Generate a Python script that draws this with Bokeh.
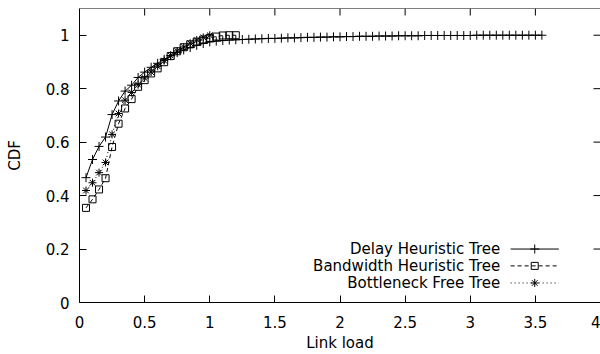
from bokeh.plotting import figure
from bokeh.models import Range1d, FixedTicker, Span
from bokeh.embed import file_html
from bokeh.resources import INLINE
from bokeh.core.properties import value

# ---- data: CDF of link load for three tree construction schemes ----
delay_x = [0.05, 0.10, 0.15, 0.20, 0.25, 0.30, 0.35, 0.40, 0.45, 0.50,
           0.55, 0.60, 0.65, 0.70, 0.75, 0.80, 0.85, 0.90, 0.95, 1.00,
           1.05, 1.10, 1.15, 1.20, 1.25, 1.30, 1.35, 1.40, 1.45, 1.50,
           1.55, 1.60, 1.65, 1.70, 1.75, 1.80, 1.85, 1.90, 1.95, 2.00,
           2.05, 2.10, 2.15, 2.20, 2.25, 2.30, 2.35, 2.40, 2.45, 2.50,
           2.55, 2.60, 2.65, 2.70, 2.75, 2.80, 2.85, 2.90, 2.95, 3.00,
           3.05, 3.10, 3.15, 3.20, 3.25, 3.30, 3.35, 3.40, 3.45, 3.50, 3.55]
delay_cdf = [0.467, 0.535, 0.584, 0.619, 0.703, 0.754, 0.791, 0.813, 0.842, 0.862,
             0.880, 0.895, 0.910, 0.923, 0.935, 0.945, 0.954, 0.962, 0.969, 0.975,
             0.978, 0.980, 0.982, 0.983, 0.984, 0.985, 0.986, 0.987, 0.988, 0.988,
             0.989, 0.990, 0.990, 0.991, 0.992, 0.992, 0.993, 0.993, 0.994, 0.994,
             0.995, 0.995, 0.996, 0.996, 0.996, 0.997, 0.997, 0.997, 0.998, 0.998,
             0.998, 0.998, 0.999, 0.999, 0.999, 0.999, 0.999, 0.999, 0.999, 0.999,
             1.000, 1.000, 1.000, 1.000, 1.000, 1.000, 1.000, 1.000, 1.000, 1.000, 1.000]

bandwidth_x = [0.05, 0.10, 0.15, 0.20, 0.25, 0.30, 0.35, 0.40, 0.45, 0.50,
               0.55, 0.60, 0.65, 0.70, 0.75, 0.80, 0.85, 0.90, 0.95, 1.00,
               1.05, 1.10, 1.15, 1.20]
bandwidth_cdf = [0.354, 0.386, 0.423, 0.465, 0.582, 0.669, 0.726, 0.761, 0.807, 0.832,
                 0.857, 0.876, 0.899, 0.922, 0.940, 0.955, 0.966, 0.976, 0.984, 0.990,
                 0.995, 0.999, 1.000, 1.000]

bottleneck_x = [0.05, 0.10, 0.15, 0.20, 0.25, 0.30, 0.35, 0.40, 0.45, 0.50,
                0.55, 0.60, 0.65, 0.70, 0.75, 0.80, 0.85, 0.90, 0.95, 1.00]
bottleneck_cdf = [0.419, 0.448, 0.486, 0.524, 0.629, 0.707, 0.757, 0.786, 0.815, 0.840,
                  0.862, 0.884, 0.905, 0.924, 0.941, 0.956, 0.970, 0.982, 0.992, 1.000]

series_names = ["Delay Heuristic Tree", "Bandwidth Heuristic Tree", "Bottleneck Free Tree"]

x_ticks = [0, 0.5, 1, 1.5, 2, 2.5, 3, 3.5, 4]
x_tick_labels = ["0", "0.5", "1", "1.5", "2", "2.5", "3", "3.5", "4"]
y_ticks = [0, 0.2, 0.4, 0.6, 0.8, 1.0]
y_tick_labels = ["0", "0.2", "0.4", "0.6", "0.8", "1"]

FONT = "DejaVu Sans"
FSIZE = "15px"
X_MAX, Y_MAX = 4.0, 1.1
TICK_PX = 7

p = figure(width=600, height=354, x_range=Range1d(0, X_MAX), y_range=Range1d(0, Y_MAX),
           output_backend="svg", toolbar_location=None,
           min_border_left=79, min_border_right=0, min_border_top=8, min_border_bottom=52,
           x_axis_label="Link load", y_axis_label="CDF")
p.grid.visible = False
p.outline_line_color = None
p.background_fill_color = "white"
p.border_fill_color = "white"


def style_axis(ax, ticks, labels):
    ax.ticker = FixedTicker(ticks=ticks)
    ax.axis_line_color = "black"
    ax.axis_line_width = 1
    ax.major_tick_in = TICK_PX
    ax.major_tick_out = 0
    ax.major_tick_line_color = "black"
    ax.minor_tick_line_color = None
    ax.major_label_overrides = {t: s for t, s in zip(ticks, labels)}
    ax.major_label_text_font = FONT
    ax.major_label_text_font_size = FSIZE
    ax.major_label_text_color = "black"
    ax.axis_label_text_font = FONT
    ax.axis_label_text_font_size = FSIZE
    ax.axis_label_text_font_style = "normal"
    ax.axis_label_text_color = "black"


style_axis(p.xaxis[0], x_ticks, x_tick_labels)
style_axis(p.yaxis[0], y_ticks, y_tick_labels)
p.xaxis[0].major_label_standoff = 13
p.xaxis[0].axis_label_standoff = 3
p.yaxis[0].major_label_standoff = 10
p.yaxis[0].axis_label_standoff = 19

# top border with mirrored ticks, and mirrored ticks on the right side
p.add_layout(Span(location=Y_MAX, dimension="width", line_color="black", line_width=1))
tick_dy = TICK_PX / 266.5
tick_dx = TICK_PX / 130.2
p.segment(x0=x_ticks, y0=[Y_MAX] * len(x_ticks), x1=x_ticks,
          y1=[Y_MAX - tick_dy] * len(x_ticks), line_color="black", line_width=1)
p.segment(x0=[X_MAX - tick_dx] * len(y_ticks), y0=y_ticks, x1=[X_MAX] * len(y_ticks),
          y1=y_ticks, line_color="black", line_width=1)

# ---- curves ----
p.line(delay_x, delay_cdf, line_color="black", line_width=1)
p.scatter(delay_x, delay_cdf, marker="cross", size=9, line_color="black", line_width=1)

p.line(bandwidth_x, bandwidth_cdf, line_color="black", line_width=1, line_dash="4 3")
p.scatter(bandwidth_x, bandwidth_cdf, marker="square", size=7, line_color="black",
          fill_color=None, line_width=1)

p.line(bottleneck_x, bottleneck_cdf, line_color="black", line_width=1, line_dash="1 3")
p.scatter(bottleneck_x, bottleneck_cdf, marker="asterisk", size=8, line_color="black",
          line_width=1)

# ---- key, gnuplot style: label on the left, sample on the right ----
key_rows = [0.200, 0.137, 0.073]
key_text_x = 3.23
key_x0, key_x1, key_xm = 3.31, 3.68, 3.495
key_dash = ["solid", "4 3", "1 3"]
key_marker = ["cross", "square", "asterisk"]
key_size = [9, 7, 8]

p.text(x=[key_text_x] * 3, y=key_rows, text=series_names, text_align="right",
       text_baseline="middle", text_font=value(FONT), text_font_size=FSIZE,
       text_color="black")
for yy, dash, mk, sz in zip(key_rows, key_dash, key_marker, key_size):
    p.line([key_x0, key_x1], [yy, yy], line_color="black", line_width=1, line_dash=dash)
    p.scatter([key_xm], [yy], marker=mk, size=sz, line_color="black", fill_color=None,
              line_width=1)

open("out.html", "w").write(file_html(p, INLINE))
